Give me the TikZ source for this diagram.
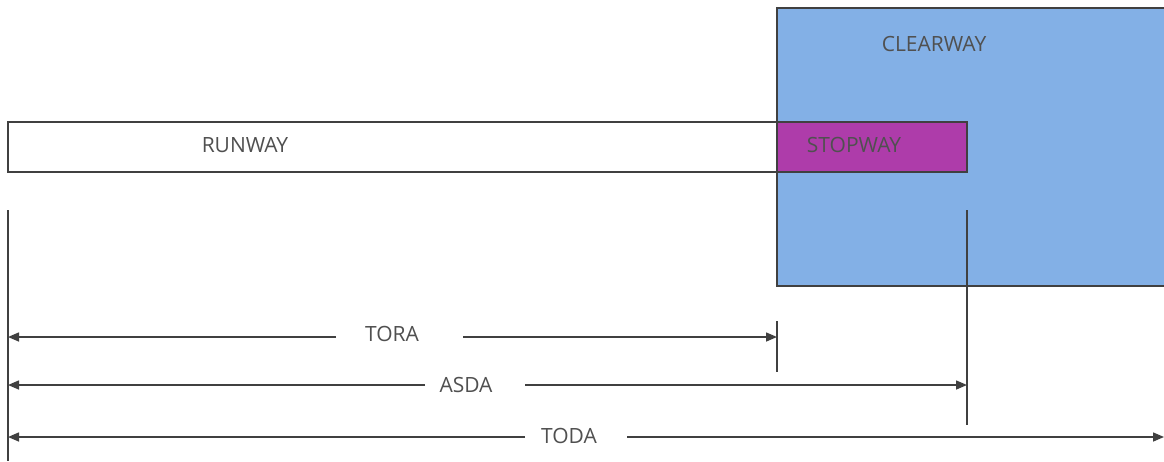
\documentclass[tikz,border=0pt]{standalone}
\usepackage{fontspec}
\setmainfont{Open Sans}
\usetikzlibrary{arrows.meta}
\definecolor{ink}{HTML}{404040}
\definecolor{txt}{HTML}{505050}
\definecolor{clearblue}{HTML}{83B0E6}
\definecolor{stopmag}{HTML}{AE3CAA}
\tikzset{
  lbl/.style={text=txt, font=\fontsize{21}{24}\selectfont, inner sep=0pt, anchor=center},
  box/.style={draw=ink, line width=1.2pt},
  dim/.style={draw=ink, line width=1.5pt, -{Triangle[length=11pt,width=9pt]}},
  guide/.style={draw=ink, line width=1.5pt}
}
\begin{document}
\begin{tikzpicture}[x=1pt,y=-1pt]
\useasboundingbox (0,0) rectangle (1164,461);
\fill[white] (0,0) rectangle (1164,461);
% clearway
\fill[clearblue] (777,8) rectangle (1166,286);
\draw[box] (1166,8) -- (777,8) -- (777,286) -- (1166,286);
% runway and stopway
\draw[box, fill=white] (8,122) rectangle (777,172);
\draw[box, fill=stopmag] (777,122) rectangle (967,172);
\node[lbl] (clearway) at (934,44) {CLEARWAY};
\node[lbl] (runway) at (245,145) {RUNWAY};
\node[lbl] (stopway) at (854,145) {STOPWAY};
% guide lines
\coordinate (l0) at (8,210);
\coordinate (l1) at (8,461);
\draw[guide] (l0) -- (l1);
\coordinate (t0) at (777,321);
\coordinate (t1) at (777,372);
\draw[guide] (t0) -- (t1);
\coordinate (a0) at (967,210);
\coordinate (a1) at (967,425);
\draw[guide] (a0) -- (a1);
% TORA
\node[lbl] (tora) at (392,334) {TORA};
\coordinate (toraL) at (336,337);
\coordinate (toraR) at (463,337);
\coordinate (toraE0) at (8,337);
\coordinate (toraE1) at (777,337);
\draw[dim] (toraL) -- (toraE0);
\draw[dim] (toraR) -- (toraE1);
% ASDA
\node[lbl] (asda) at (466,385) {ASDA};
\coordinate (asdaL) at (425,385);
\coordinate (asdaR) at (525,385);
\coordinate (asdaE0) at (8,385);
\coordinate (asdaE1) at (967,385);
\draw[dim] (asdaL) -- (asdaE0);
\draw[dim] (asdaR) -- (asdaE1);
% TODA
\node[lbl] (toda) at (569,436) {TODA};
\coordinate (todaL) at (525,437);
\coordinate (todaR) at (627,437);
\coordinate (todaE0) at (8,437);
\coordinate (todaE1) at (1164,437);
\draw[dim] (todaL) -- (todaE0);
\draw[dim] (todaR) -- (todaE1);
\end{tikzpicture}
\end{document}
